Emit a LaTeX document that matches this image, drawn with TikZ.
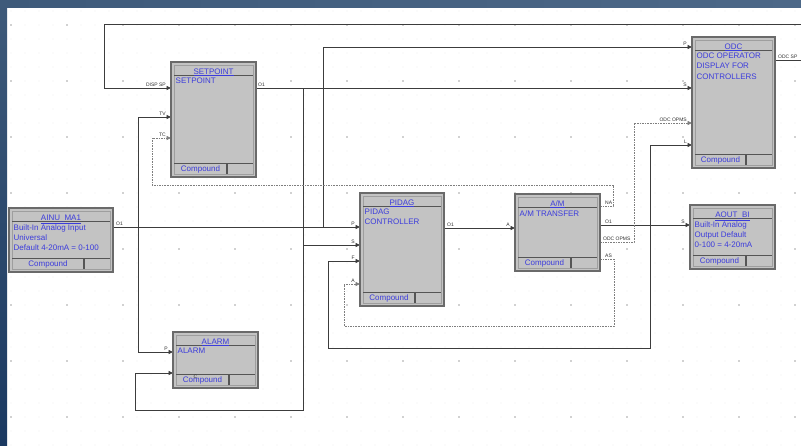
\documentclass[tikz,border=0pt]{standalone}
\usepackage{fontspec}
\setmainfont{Liberation Sans}
\usetikzlibrary{arrows.meta,fit}
\definecolor{bluetxt}{HTML}{3C3CDC}
\definecolor{blkfill}{HTML}{C3C3C3}
\definecolor{blkedge}{HTML}{6A6A6A}
\definecolor{blkinner}{HTML}{9E9E9E}
\definecolor{sepcol}{HTML}{555555}
\definecolor{wirecol}{HTML}{3C3C3C}
\definecolor{dashcol}{HTML}{7E7E7E}
\definecolor{portcol}{HTML}{303030}
\definecolor{gridmin}{HTML}{D4D4D4}
\definecolor{gridmaj}{HTML}{A8A8A8}
\definecolor{bgtopL}{HTML}{3E5A7A}
\definecolor{bgtopR}{HTML}{4C6888}
\definecolor{bgleftB}{HTML}{1B3961}
\tikzset{
  blk/.style={draw=blkedge, fill=blkfill, line width=1.5pt, inner sep=0pt},
  innerframe/.style={draw=blkinner, line width=0.5pt},
  sepline/.style={draw=sepcol, line width=1.1pt},
  ttl/.style={font=\fontsize{8}{10}\selectfont, text=bluetxt, inner sep=0pt, anchor=base},
  bodytxt/.style={font=\fontsize{8}{10.2}\selectfont, text=bluetxt, inner sep=0pt, align=left, anchor=north west},
  cmp/.style={font=\fontsize{8}{10}\selectfont, text=bluetxt, inner sep=0pt, anchor=base},
  wire/.style={draw=wirecol, line width=0.9pt},
  dsh/.style={draw=dashcol, line width=0.8pt, dash pattern=on 1.6pt off 1pt},
  arr/.style={-{Triangle[length=4.5pt,width=4pt]}},
  inlbl/.style={font=\fontsize{5}{5}\selectfont, text=portcol, inner sep=0pt, anchor=south east},
  outlbl/.style={font=\fontsize{5}{5}\selectfont, text=portcol, inner sep=0pt, anchor=south west},
}
% #1 name, #2 x1, #3 y1, #4 x2, #5 y2, #6 title, #7 body
\newcommand\fbblock[7]{%
  \node[blk, fit={(#2,#3) (#4,#5)}] (#1) {};
  \draw[innerframe] (#2+3,#3+3) rectangle (#4-3,#5-3);
  \draw[sepline] (#2+3,#3+13.5) -- (#4-3,#3+13.5);
  \draw[sepline] (#2+3,#5-13.5) -- (#4-3,#5-13.5);
  \draw[sepline] (#4-29,#5-13.5) -- (#4-29,#5-3);
  \node[ttl] (#1-t) at ({(#2+#4)/2},#3+12) {\underline{#6}};
  \node[bodytxt] (#1-b) at (#2+4.5,#3+16) {#7};
  \node[cmp] (#1-c) at ({(#2+#4-26)/2},#5-5.3) {Compound};
}
\begin{document}
\begin{tikzpicture}[x=1pt,y=-1pt]
\useasboundingbox (0,0) rectangle (801,445);
\fill[white] (0,0) rectangle (801,445);
% grid
\foreach \x in {11,25,...,801}{\foreach \y in {11,25,...,445}{\fill[gridmin] (\x,\y) circle (0.45);}}
\foreach \x in {11,67,...,801}{\foreach \y in {25,81,...,445}{\fill[gridmaj] (\x,\y) circle (0.9);}}
% frame strips
\shade[top color=bgtopL, bottom color=bgleftB] (0,0) rectangle (7,445);
\shade[left color=bgtopL, right color=bgtopR] (0,0) rectangle (801,7);

% ports
\coordinate (sp-dsp) at (171,88);
\coordinate (sp-tv) at (171,117);
\coordinate (sp-tc) at (171,138);
\coordinate (sp-o1) at (256,88);
\coordinate (al-p) at (173,352);
\coordinate (al-c) at (173,373);
\coordinate (ainu-o1) at (113,227);
\coordinate (pid-p) at (360,227);
\coordinate (pid-s) at (360,245);
\coordinate (pid-f) at (360,261);
\coordinate (pid-a) at (360,284);
\coordinate (pid-o1) at (444,228);
\coordinate (am-a) at (515,228);
\coordinate (am-na) at (600,206);
\coordinate (am-o1) at (600,225);
\coordinate (am-opms) at (600,242);
\coordinate (am-as) at (600,259);
\coordinate (aout-s) at (690,225);
\coordinate (odc-p) at (692,47);
\coordinate (odc-s) at (692,88);
\coordinate (odc-opms) at (692,123);
\coordinate (odc-l) at (692,145);
\coordinate (odc-sp) at (775,60);
\coordinate (odcR) at (801,60);
\coordinate (topR) at (801,24);
\coordinate (j1) at (138,227);
\coordinate (j2) at (323,227);
\coordinate (j3) at (303,88);
\coordinate (j5) at (650,225);

% solid connectors
\draw[wire] (odc-sp) -- (odcR);
\draw[wire,arr] (topR) -| (104,88) -- (sp-dsp);
\draw[wire,arr] (ainu-o1) -- (pid-p);
\draw[wire,arr] (j1) |- (sp-tv);
\draw[wire,arr] (j1) |- (al-p);
\draw[wire,arr] (j2) |- (odc-p);
\draw[wire,arr] (sp-o1) -- (odc-s);
\draw[wire,arr] (j3) |- (pid-s);
\draw[wire,arr] (j3) -- (303,410) -| (135,373) -- (al-c);
\draw[wire,arr] (pid-o1) -- (am-a);
\draw[wire,arr] (am-o1) -- (aout-s);
\draw[wire,arr] (j5) |- (odc-l);
\draw[wire,arr] (j5) -- (650,348) -| (328,261) -- (pid-f);
% dashed connectors
\draw[dsh,arr] (am-na) -- (613,206) -- (613,185) -| (152,138) -- (sp-tc);
\draw[dsh,arr] (am-opms) -- (634,242) |- (odc-opms);
\draw[dsh,arr] (am-as) -- (614,259) -- (614,326) -| (344,284) -- (pid-a);

% blocks
\fbblock{sp}{171}{62}{256}{177}{SETPOINT}{SETPOINT}
\fbblock{odc}{692}{37}{775}{168}{ODC}{ODC OPERATOR\\DISPLAY FOR\\CONTROLLERS}
\fbblock{ainu}{9}{208}{113}{272}{AINU\_MA1}{Built-In Analog Input\\Universal\\Default 4-20mA = 0-100}
\fbblock{pid}{360}{193}{444}{306}{PIDAG}{PIDAG\\CONTROLLER}
\fbblock{am}{515}{194}{600}{271}{A/M}{A/M TRANSFER}
\fbblock{aout}{690}{205}{775}{269}{AOUT\_BI}{Built-In Analog\\Output Default\\0-100 = 4-20mA}
\fbblock{al}{173}{332}{258}{388}{ALARM}{ALARM}

% port labels
\node[inlbl] (l-dsp) at ([shift={(-5,-1.5)}]sp-dsp) {DISP SP};
\node[inlbl] (l-tv) at ([shift={(-5,-1.5)}]sp-tv) {TV};
\node[inlbl] (l-tc) at ([shift={(-5,-1.5)}]sp-tc) {TC};
\node[outlbl] (l-spo1) at ([shift={(2,-1.5)}]sp-o1) {O1};
\node[inlbl] (l-alp) at ([shift={(-5,-1.5)}]al-p) {P};
\node[inlbl] (l-alc) at ([shift={(-5,-1.5)}]al-c) {C};
\node[outlbl] (l-ainuo1) at ([shift={(3,-1.5)}]ainu-o1) {O1};
\node[inlbl] (l-pidp) at ([shift={(-5,-1.5)}]pid-p) {P};
\node[inlbl] (l-pids) at ([shift={(-5,-1.5)}]pid-s) {S};
\node[inlbl] (l-pidf) at ([shift={(-5,-1.5)}]pid-f) {F};
\node[inlbl] (l-pida) at ([shift={(-5,-1.5)}]pid-a) {A};
\node[outlbl] (l-pido1) at ([shift={(3,-1.5)}]pid-o1) {O1};
\node[inlbl] (l-ama) at ([shift={(-5,-1.5)}]am-a) {A};
\node[outlbl] (l-amna) at ([shift={(5,-1.5)}]am-na) {NA};
\node[outlbl] (l-amo1) at ([shift={(5,-1.5)}]am-o1) {O1};
\node[outlbl] (l-amopms) at ([shift={(3,-1.5)}]am-opms) {ODC OPMS};
\node[outlbl] (l-amas) at ([shift={(5,-1.5)}]am-as) {AS};
\node[inlbl] (l-aouts) at ([shift={(-5,-1.5)}]aout-s) {S};
\node[inlbl] (l-odcp) at ([shift={(-5,-1.5)}]odc-p) {P};
\node[inlbl] (l-odcs) at ([shift={(-5,-1.5)}]odc-s) {S};
\node[inlbl] (l-odcopms) at ([shift={(-5,-1.5)}]odc-opms) {ODC OPMS};
\node[inlbl] (l-odcl) at ([shift={(-5,-1.5)}]odc-l) {L};
\node[outlbl] (l-odcsp) at ([shift={(3,-1.5)}]odc-sp) {ODC SP};
\end{tikzpicture}
\end{document}
